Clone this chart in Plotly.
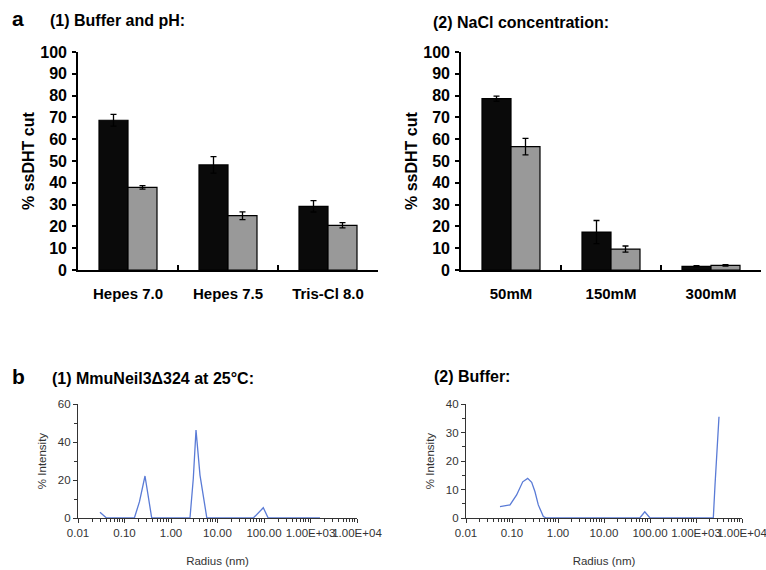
import plotly.graph_objects as go

# ---- data: panel a(1) ----
buffer_cats = ["Hepes 7.0", "Hepes 7.5", "Tris-Cl 8.0"]
buffer_black = [68.7, 48.2, 29.2]
buffer_black_err = [2.7, 3.8, 2.6]
buffer_gray = [37.9, 24.9, 20.5]
buffer_gray_err = [0.8, 1.8, 1.2]

# ---- data: panel a(2) ----
nacl_cats = ["50mM", "150mM", "300mM"]
nacl_black = [78.6, 17.4, 1.7]
nacl_black_err = [1.2, 5.3, 0.3]
nacl_gray = [56.6, 9.6, 2.1]
nacl_gray_err = [3.8, 1.4, 0.3]

# ---- data: panel b(1) ----
dls1_radius = [0.0297, 0.041, 0.163, 0.21, 0.276, 0.385, 2.56, 3.02, 3.45, 4.2, 5.9,
               59.0, 96.6, 123.0, 1600.0]
dls1_intensity = [3.0, 0.0, 0.0, 8.6, 22.1, 0.0, 0.0, 20.9, 46.3, 22.6, 0.0,
                  0.0, 5.4, 0.0, 0.0]

# ---- data: panel b(2) ----
dls2_radius = [0.0548, 0.0905, 0.126, 0.171, 0.219, 0.268, 0.316, 0.373, 0.48, 0.56,
               60.0, 77.0, 100.0, 2378.0, 2590.0, 2900.0, 3160.0]
dls2_intensity = [4.0, 4.6, 8.1, 12.7, 13.9, 12.5, 9.2, 4.6, 0.5, 0.0,
                  0.0, 2.2, 0.0, 0.0, 11.6, 25.6, 35.5]

log_tickvals = [0.01, 0.1, 1, 10, 100, 1000, 10000]
log_ticktext = ["0.01", "0.10", "1.00", "10.00", "100.00", "1.00E+03", "1.00E+04"]

W, H = 766, 570
def px_x(v):
    return v / W
def px_y(v):
    return 1 - v / H

fig = go.Figure()

BOLD = "Liberation Sans, Arial, sans-serif"
GRAY = "#999999"

def add_bars(cats, blk, blk_e, gry, gry_e, xa, ya):
    fig.add_trace(go.Bar(x=cats, y=blk, xaxis=xa, yaxis=ya, offsetgroup="b",
                         marker=dict(color="#0a0a0a", line=dict(color="#000", width=1.2)),
                         error_y=dict(type="data", array=blk_e, color="#000", thickness=1.3, width=3),
                         showlegend=False))
    fig.add_trace(go.Bar(x=cats, y=gry, xaxis=xa, yaxis=ya, offsetgroup="g",
                         marker=dict(color=GRAY, line=dict(color="#000", width=1.2)),
                         error_y=dict(type="data", array=gry_e, color="#000", thickness=1.3, width=3),
                         showlegend=False))

add_bars(buffer_cats, buffer_black, buffer_black_err, buffer_gray, buffer_gray_err, "x", "y")
add_bars(nacl_cats, nacl_black, nacl_black_err, nacl_gray, nacl_gray_err, "x2", "y2")

LINE = "#5a7bd6"
fig.add_trace(go.Scatter(x=dls1_radius, y=dls1_intensity, xaxis="x3", yaxis="y3", mode="lines",
                         line=dict(color=LINE, width=1.3), showlegend=False))
fig.add_trace(go.Scatter(x=dls2_radius, y=dls2_intensity, xaxis="x4", yaxis="y4", mode="lines",
                         line=dict(color=LINE, width=1.3), showlegend=False))

bar_x = dict(showline=True, linecolor="#000", linewidth=1.6, ticks="inside", tickson="boundaries",
             ticklen=5, tickwidth=1.6, tickcolor="#000", showgrid=False, zeroline=False,
             automargin=False,
             tickfont=dict(family=BOLD, size=15, color="#000", weight="bold"),
             ticklabelstandoff=9)
bar_y = dict(showline=True, linecolor="#000", linewidth=1.6, ticks="outside", ticklen=4,
             tickwidth=1.6, tickcolor="#000", range=[0, 100], dtick=10, showgrid=False,
             zeroline=False, automargin=False,
             tickfont=dict(family=BOLD, size=16, color="#000", weight="bold"),
             ticklabelstandoff=2)

SMALL = dict(family="Liberation Sans, Arial", size=11.5, color="#333")
dls_x = dict(type="log", range=[-2, 4], tickvals=log_tickvals, ticktext=log_ticktext, tickangle=0,
             showline=True, linecolor="#333", linewidth=1.3, ticks="outside", ticklen=4,
             tickwidth=1.3, tickcolor="#333", showgrid=False, zeroline=False, automargin=False,
             tickfont=SMALL, ticklabeloverflow="allow",
             minor=dict(ticks="outside", ticklen=3, tickwidth=1.2, tickcolor="#333",
                        dtick="D1", showgrid=False),
             title=dict(text="Radius (nm)", font=SMALL, standoff=18))
dls_y_common = dict(showline=True, linecolor="#333", linewidth=1.3, ticks="outside", ticklen=4,
                    tickwidth=1.3, tickcolor="#333", showgrid=False, zeroline=False,
                    automargin=False, tickfont=SMALL,
                    title=dict(text="% Intensity", font=SMALL, standoff=8))

fig.update_layout(
    width=W, height=H, margin=dict(l=0, r=0, t=0, b=0, autoexpand=False),
    paper_bgcolor="white", plot_bgcolor="white",
    barmode="group", bargap=0.42, bargroupgap=0,
    xaxis=dict(domain=[px_x(78), px_x(378)], anchor="y", **bar_x),
    yaxis=dict(domain=[px_y(270), px_y(52)], anchor="x", **bar_y),
    xaxis2=dict(domain=[px_x(461), px_x(761)], anchor="y2", **bar_x),
    yaxis2=dict(domain=[px_y(270), px_y(52)], anchor="x2", **bar_y),
    xaxis3=dict(domain=[px_x(78), px_x(357)], anchor="y3", **dls_x),
    yaxis3=dict(domain=[px_y(518), px_y(404)], anchor="x3", range=[0, 60], dtick=20,
                minor=dict(ticks="outside", ticklen=3, dtick=10, tickcolor="#333"), **dls_y_common),
    xaxis4=dict(domain=[px_x(466), px_x(742)], anchor="y4", **dls_x),
    yaxis4=dict(domain=[px_y(518), px_y(404)], anchor="x4", range=[0, 40], dtick=10,
                minor=dict(ticks="outside", ticklen=3, dtick=5, tickcolor="#333"), **dls_y_common),
)

def ann(text, x, y, size, xanchor="left", angle=0, weight="bold"):
    fig.add_annotation(text=text, x=px_x(x), y=px_y(y), xref="paper", yref="paper",
                       xanchor=xanchor, yanchor="middle", showarrow=False, textangle=angle,
                       font=dict(family=BOLD, size=size, color="#000", weight=weight))

ann("a", 10, 19, 21)
ann("(1) Buffer and pH:", 48, 20, 16)
ann("(2) NaCl concentration:", 431, 22, 16)
ann("% ssDHT cut", 28, 161, 16, xanchor="center", angle=-90)
ann("% ssDHT cut", 411, 161, 16, xanchor="center", angle=-90)
ann("b", 10, 377, 21)
ann("(1) MmuNeil3Δ324 at 25°C:", 50, 378, 16)
ann("(2) Buffer:", 432, 376, 16)

fig.write_html("out.html", config={"displayModeBar": False},
               post_script="document.body.style.margin='0px';document.body.style.overflow='hidden';")
